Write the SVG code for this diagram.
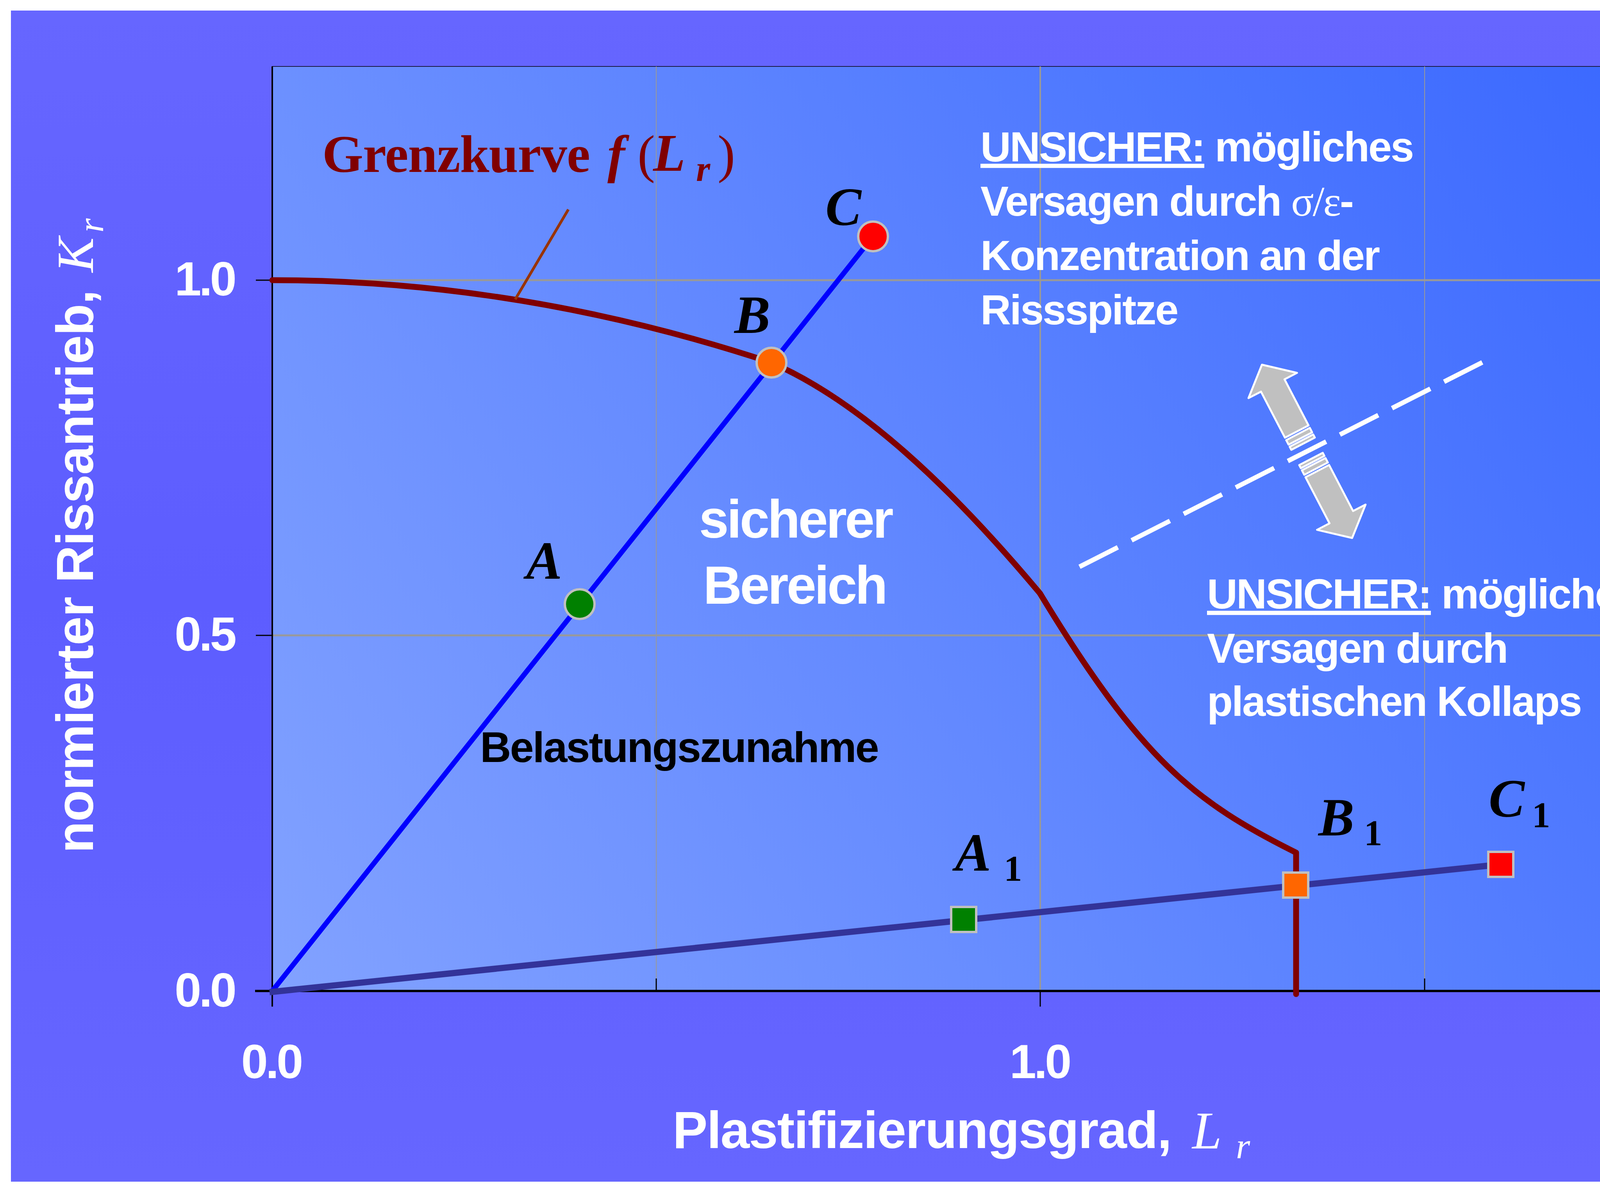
<svg xmlns="http://www.w3.org/2000/svg" width="4356" height="3053" viewBox="0 0 4356 3053">
<defs>
<linearGradient id="bg" x1="0" y1="0" x2="0" y2="1">
<stop offset="0" stop-color="#6666FF"/>
<stop offset="0.5" stop-color="#5D5DFF"/>
<stop offset="1" stop-color="#6666FF"/>
</linearGradient>
<linearGradient id="plotbg" gradientUnits="userSpaceOnUse" x1="697" y1="2536" x2="4240" y2="170">
<stop offset="0" stop-color="#82A2FF"/>
<stop offset="1" stop-color="#3A68FF"/>
</linearGradient>
<style>
.sb{font-family:"Liberation Sans",Arial,sans-serif;font-weight:bold}
.sr{font-family:"Liberation Serif","Times New Roman",serif}
.bi{font-family:"Liberation Serif","Times New Roman",serif;font-weight:bold;font-style:italic}
.w{fill:#FFFFFF}
.grid{stroke:#999999;fill:none}
.ax{stroke:#000000;fill:none}
.pt{stroke:#C0C0C0;stroke-width:6}
.arr{fill:#C0C0C0;stroke:#FFFFFF;stroke-width:5;stroke-linejoin:round}
.tick{font-size:123px;letter-spacing:-6px}
.note{font-size:108px;letter-spacing:-3px}
</style>
</defs>

<g id="background">
<rect x="0" y="0" width="4356" height="3053" fill="#FFFFFF"/>
<rect x="28" y="27" width="4328" height="2997" fill="url(#bg)"/>
</g>

<g id="plot-area">
<rect x="697" y="170" width="3543" height="2366" fill="url(#plotbg)" stroke="#1A1A40" stroke-width="2"/>
<line class="grid" x1="697" y1="717" x2="4240" y2="717" stroke-width="5"/>
<line class="grid" x1="697" y1="1626" x2="4240" y2="1626" stroke-width="5"/>
<line class="grid" x1="1680" y1="170" x2="1680" y2="2536" stroke-width="2"/>
<line class="grid" x1="2663" y1="170" x2="2663" y2="2536" stroke-width="4"/>
<line class="grid" x1="3647" y1="170" x2="3647" y2="2536" stroke-width="2"/>
<line class="ax" x1="697" y1="170" x2="697" y2="2576" stroke-width="4"/>
<line class="ax" x1="653" y1="2536" x2="4242" y2="2536" stroke-width="6"/>
<line class="ax" x1="655" y1="717" x2="697" y2="717" stroke-width="3"/>
<line class="ax" x1="655" y1="1626" x2="697" y2="1626" stroke-width="3"/>
<line class="ax" x1="2663" y1="2536" x2="2663" y2="2576" stroke-width="3"/>
<line class="ax" x1="1680" y1="2504" x2="1680" y2="2536" stroke-width="3"/>
<line class="ax" x1="3647" y1="2504" x2="3647" y2="2536" stroke-width="3"/>
</g>

<g id="axis-labels">
<text class="sb w tick" x="600" y="756" text-anchor="end">1.0</text>
<text class="sb w tick" x="600" y="1665" text-anchor="end">0.5</text>
<text class="sb w tick" x="600" y="2576" text-anchor="end">0.0</text>
<text class="sb w tick" x="694" y="2759" text-anchor="middle">0.0</text>
<text class="sb w tick" x="2661" y="2759" text-anchor="middle">1.0</text>
<text class="w" x="1722" y="2938"><tspan class="sb" font-size="134" letter-spacing="-2">Plastifizierungsgrad,</tspan><tspan class="sr" font-style="italic" font-size="136" x="3052" y="2939">L</tspan><tspan class="sr" font-style="italic" font-size="93" x="3164" y="2964">r</tspan></text>
<text class="w" transform="translate(238,2183) rotate(-90)"><tspan class="sb" font-size="133" letter-spacing="-1" x="0" y="0">normierter Rissantrieb,</tspan><tspan class="sr" font-style="italic" font-size="134" x="1486" y="0">K</tspan><tspan class="sr" font-style="italic" font-size="93" x="1588" y="26">r</tspan></text>
</g>

<g id="connectors">
<line id="load-line-1" x1="697" y1="2536" x2="2235" y2="605" stroke="#0000FF" stroke-width="13"/>
<line id="load-line-2" x1="690" y1="2539" x2="3842" y2="2212" stroke="#333399" stroke-width="16"/>
<path id="grenzkurve" d="M697,717 Q1336,717 1975,928 C2204,1029 2433,1245 2662,1518 C2922,1947 3058,2052 3318,2182 L3318,2544" fill="none" stroke="#800000" stroke-width="15" stroke-linecap="round" stroke-linejoin="round"/>
<line id="pointer" x1="1455" y1="536" x2="1319" y2="766" stroke="#993300" stroke-width="7"/>
<line id="boundary-dashed" x1="2763.6" y1="1450.4" x2="3794.6" y2="927.4" stroke="#FFFFFF" stroke-width="12" stroke-dasharray="110 39.5"/>
</g>

<g id="label-grenzkurve" fill="#800000">
<text class="sr" font-weight="bold" font-size="135" x="825" y="440" letter-spacing="-1">Grenzkurve</text>
<text class="bi" font-size="135" x="1555" y="440">f</text>
<text class="sr" font-size="135" x="1632" y="440">(</text>
<text class="bi" font-size="135" x="1672" y="437">L</text>
<text class="bi" font-size="93" x="1782" y="463">r</text>
<text class="sr" font-size="135" x="1837" y="440">)</text>
</g>

<g id="point-A">
<circle class="pt" cx="1484" cy="1546" r="38" fill="#008000"/>
<text class="bi" font-size="138" x="1347" y="1481">A</text>
</g>
<g id="point-B">
<circle class="pt" cx="1975" cy="928" r="38" fill="#FF6600"/>
<text class="bi" font-size="138" x="1880" y="852">B</text>
</g>
<g id="point-C">
<circle class="pt" cx="2235" cy="605" r="38" fill="#FF0000"/>
<text class="bi" font-size="138" x="2113" y="576">C</text>
</g>

<g id="point-A1">
<rect class="pt" x="2435" y="2321" width="64" height="64" fill="#008000"/>
<text x="2445" y="2228"><tspan class="bi" font-size="138">A</tspan><tspan class="sr" font-weight="bold" font-size="93" x="2570" y="2254">1</tspan></text>
</g>
<g id="point-B1">
<rect class="pt" x="3285" y="2233" width="64" height="64" fill="#FF6600"/>
<text x="3375" y="2138"><tspan class="bi" font-size="138">B</tspan><tspan class="sr" font-weight="bold" font-size="93" x="3492" y="2163">1</tspan></text>
</g>
<g id="point-C1">
<rect class="pt" x="3810" y="2180" width="64" height="64" fill="#FF0000"/>
<text x="3811" y="2090"><tspan class="bi" font-size="138">C</tspan><tspan class="sr" font-weight="bold" font-size="93" x="3922" y="2117">1</tspan></text>
</g>

<g id="label-safe">
<text class="sb w" font-size="137" letter-spacing="-5" x="2036" y="1376" text-anchor="middle">sicherer</text>
<text class="sb w" font-size="137" letter-spacing="-5" x="2034" y="1545" text-anchor="middle">Bereich</text>
</g>

<g id="label-load">
<text class="sb" font-size="110" letter-spacing="-3" x="1229" y="1950" fill="#000000">Belastungszunahme</text>
</g>

<g id="label-unsafe-top" class="sb w note">
<text x="2510" y="413"><tspan text-decoration="underline">UNSICHER:</tspan> mögliches</text>
<text x="2510" y="552">Versagen durch <tspan class="sr" font-weight="normal">σ/ε</tspan>-</text>
<text x="2510" y="691">Konzentration an der</text>
<text x="2510" y="830">Rissspitze</text>
</g>

<g id="label-unsafe-bottom" class="sb w note">
<text x="3090" y="1557"><tspan text-decoration="underline">UNSICHER:</tspan> mögliches</text>
<text x="3090" y="1696">Versagen durch</text>
<text x="3090" y="1832">plastischen Kollaps</text>
</g>

<g id="double-arrow" class="arr" transform="translate(3346,1155) rotate(62.5)">
<polygon points="-250,0 -190,70 -190,34 -57,34 -57,-34 -190,-34 -190,-70"/>
<rect x="-50" y="-34" width="13" height="68"/>
<rect x="-31" y="-34" width="9" height="68"/>
<rect x="22" y="-34" width="9" height="68"/>
<rect x="37" y="-34" width="13" height="68"/>
<polygon points="250,0 190,-70 190,-34 57,-34 57,34 190,34 190,70"/>
</g>
</svg>
